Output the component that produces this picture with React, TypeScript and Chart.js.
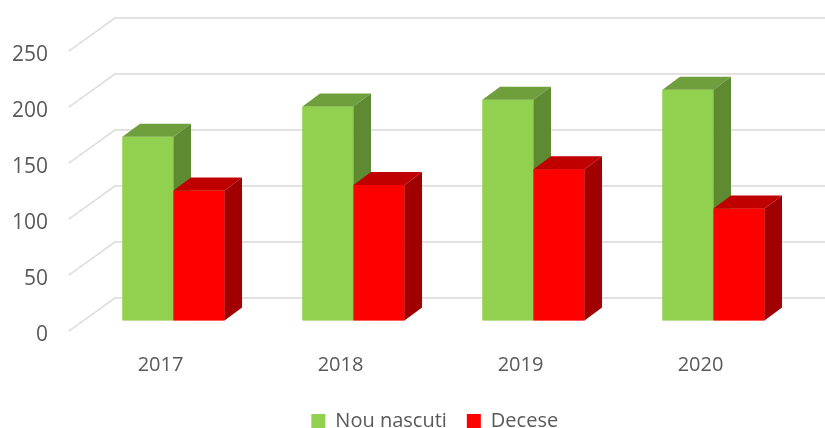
import React, { useEffect, useRef } from "react";
import { Chart, registerables } from "chart.js";

Chart.register(...registerables);

const categories = ["2017", "2018", "2019", "2020"];
const nouNascuti = [164, 191, 197, 206];
const decese = [116, 121, 135, 100];
const yTicks = [0, 50, 100, 150, 200, 250];

const FONT = "'Open Sans', 'Liberation Sans', sans-serif";
const TEXT = "#595959";
const GRID = "#d9d9d9";

// 3D offsets (pixels)
const DEPTH_DX = 17.5;
const DEPTH_DY = -13;
const FRONT_DX = -14.5;
const FRONT_DY = 10.5;
const BACK_DX = 31.5;
const BACK_DY = -22.5;
const LEGEND_SHIFT = 33;

const faceColors = [
  { front: "#92d050", top: "#6f9f3c", side: "#5e8a32" },
  { front: "#ff0000", top: "#c00000", side: "#a00000" },
];

const threeD = {
  id: "threeD",
  afterLayout(chart: any) {
    if (chart.legend) {
      chart.legend.left += LEGEND_SHIFT;
      chart.legend.right += LEGEND_SHIFT;
    }
  },
  beforeDatasetsDraw(chart: any) {
    const { ctx, chartArea, scales } = chart;
    const y = scales.y;
    ctx.save();
    ctx.strokeStyle = GRID;
    ctx.lineWidth = 1.5;
    for (const t of yTicks) {
      const py = y.getPixelForValue(t);
      ctx.beginPath();
      ctx.moveTo(chartArea.left + FRONT_DX, py + FRONT_DY);
      ctx.lineTo(chartArea.left + BACK_DX, py + BACK_DY);
      ctx.lineTo(chart.width, py + BACK_DY);
      ctx.stroke();
    }
    ctx.restore();
  },
  afterDatasetsDraw(chart: any) {
    const { ctx } = chart;
    ctx.save();
    const n = chart.data.labels.length;
    for (let i = 0; i < n; i++) {
      for (let di = 0; di < chart.data.datasets.length; di++) {
        const meta = chart.getDatasetMeta(di);
        const el = meta.data[i];
        if (!el) continue;
        const col = faceColors[di];
        const { x, y, base, width } = el.getProps(["x", "y", "base", "width"], true);
        const l = x - width / 2;
        const r = x + width / 2;
        ctx.fillStyle = col.front;
        ctx.fillRect(l, y, width, base - y);
        ctx.fillStyle = col.top;
        ctx.beginPath();
        ctx.moveTo(l, y);
        ctx.lineTo(l + DEPTH_DX, y + DEPTH_DY);
        ctx.lineTo(r + DEPTH_DX, y + DEPTH_DY);
        ctx.lineTo(r, y);
        ctx.closePath();
        ctx.fill();
        ctx.fillStyle = col.side;
        ctx.beginPath();
        ctx.moveTo(r, y);
        ctx.lineTo(r + DEPTH_DX, y + DEPTH_DY);
        ctx.lineTo(r + DEPTH_DX, base + DEPTH_DY);
        ctx.lineTo(r, base);
        ctx.closePath();
        ctx.fill();
      }
    }
    ctx.restore();
  },
};

export default function App() {
  const ref = useRef<HTMLCanvasElement>(null);
  useEffect(() => {
    if (!ref.current) return;
    const chart = new Chart(ref.current, {
      type: "bar",
      data: {
        labels: categories,
        datasets: [
          {
            label: "Nou nascuti",
            data: nouNascuti,
            backgroundColor: "#92d050",
            borderWidth: 0,
            barPercentage: 1,
            categoryPercentage: 0.567,
          },
          {
            label: "Decese",
            data: decese,
            backgroundColor: "#ff0000",
            borderWidth: 0,
            barPercentage: 1,
            categoryPercentage: 0.567,
          },
        ],
      },
      options: {
        animation: false,
        responsive: true,
        maintainAspectRatio: false,
        layout: { padding: { top: 40.5, right: 21.5, left: 0, bottom: -13 } },
        plugins: {
          legend: {
            position: "bottom",
            labels: {
              color: TEXT,
              font: { family: FONT, size: 20 },
              boxWidth: 14,
              boxHeight: 14,
              padding: 20,
            },
          },
          tooltip: { enabled: false },
        },
        scales: {
          x: {
            grid: { display: false, drawTicks: false },
            border: { display: false },
            ticks: {
              color: TEXT,
              font: { family: FONT, size: 20 },
              padding: 33,
              labelOffset: -13,
              maxRotation: 0,
            },
            afterFit(scale: any) {
              scale.height = 70.5;
            },
          },
          y: {
            min: 0,
            max: 250,
            grid: { display: false, drawTicks: false },
            border: { display: false },
            ticks: {
              stepSize: 50,
              color: TEXT,
              font: { family: FONT, size: 21 },
              padding: 35.5,
              labelOffset: 14.5,
            },
            afterFit(scale: any) {
              scale.width = 83.5;
              scale.paddingTop = 0;
              scale.paddingBottom = 0;
            },
          },
        },
      },
      plugins: [threeD],
    });
    return () => chart.destroy();
  }, []);
  return (
    <div style={{ position: "fixed", left: 0, top: 0, width: 825, height: 428, background: "#fff" }}>
      <canvas ref={ref} />
    </div>
  );
}
